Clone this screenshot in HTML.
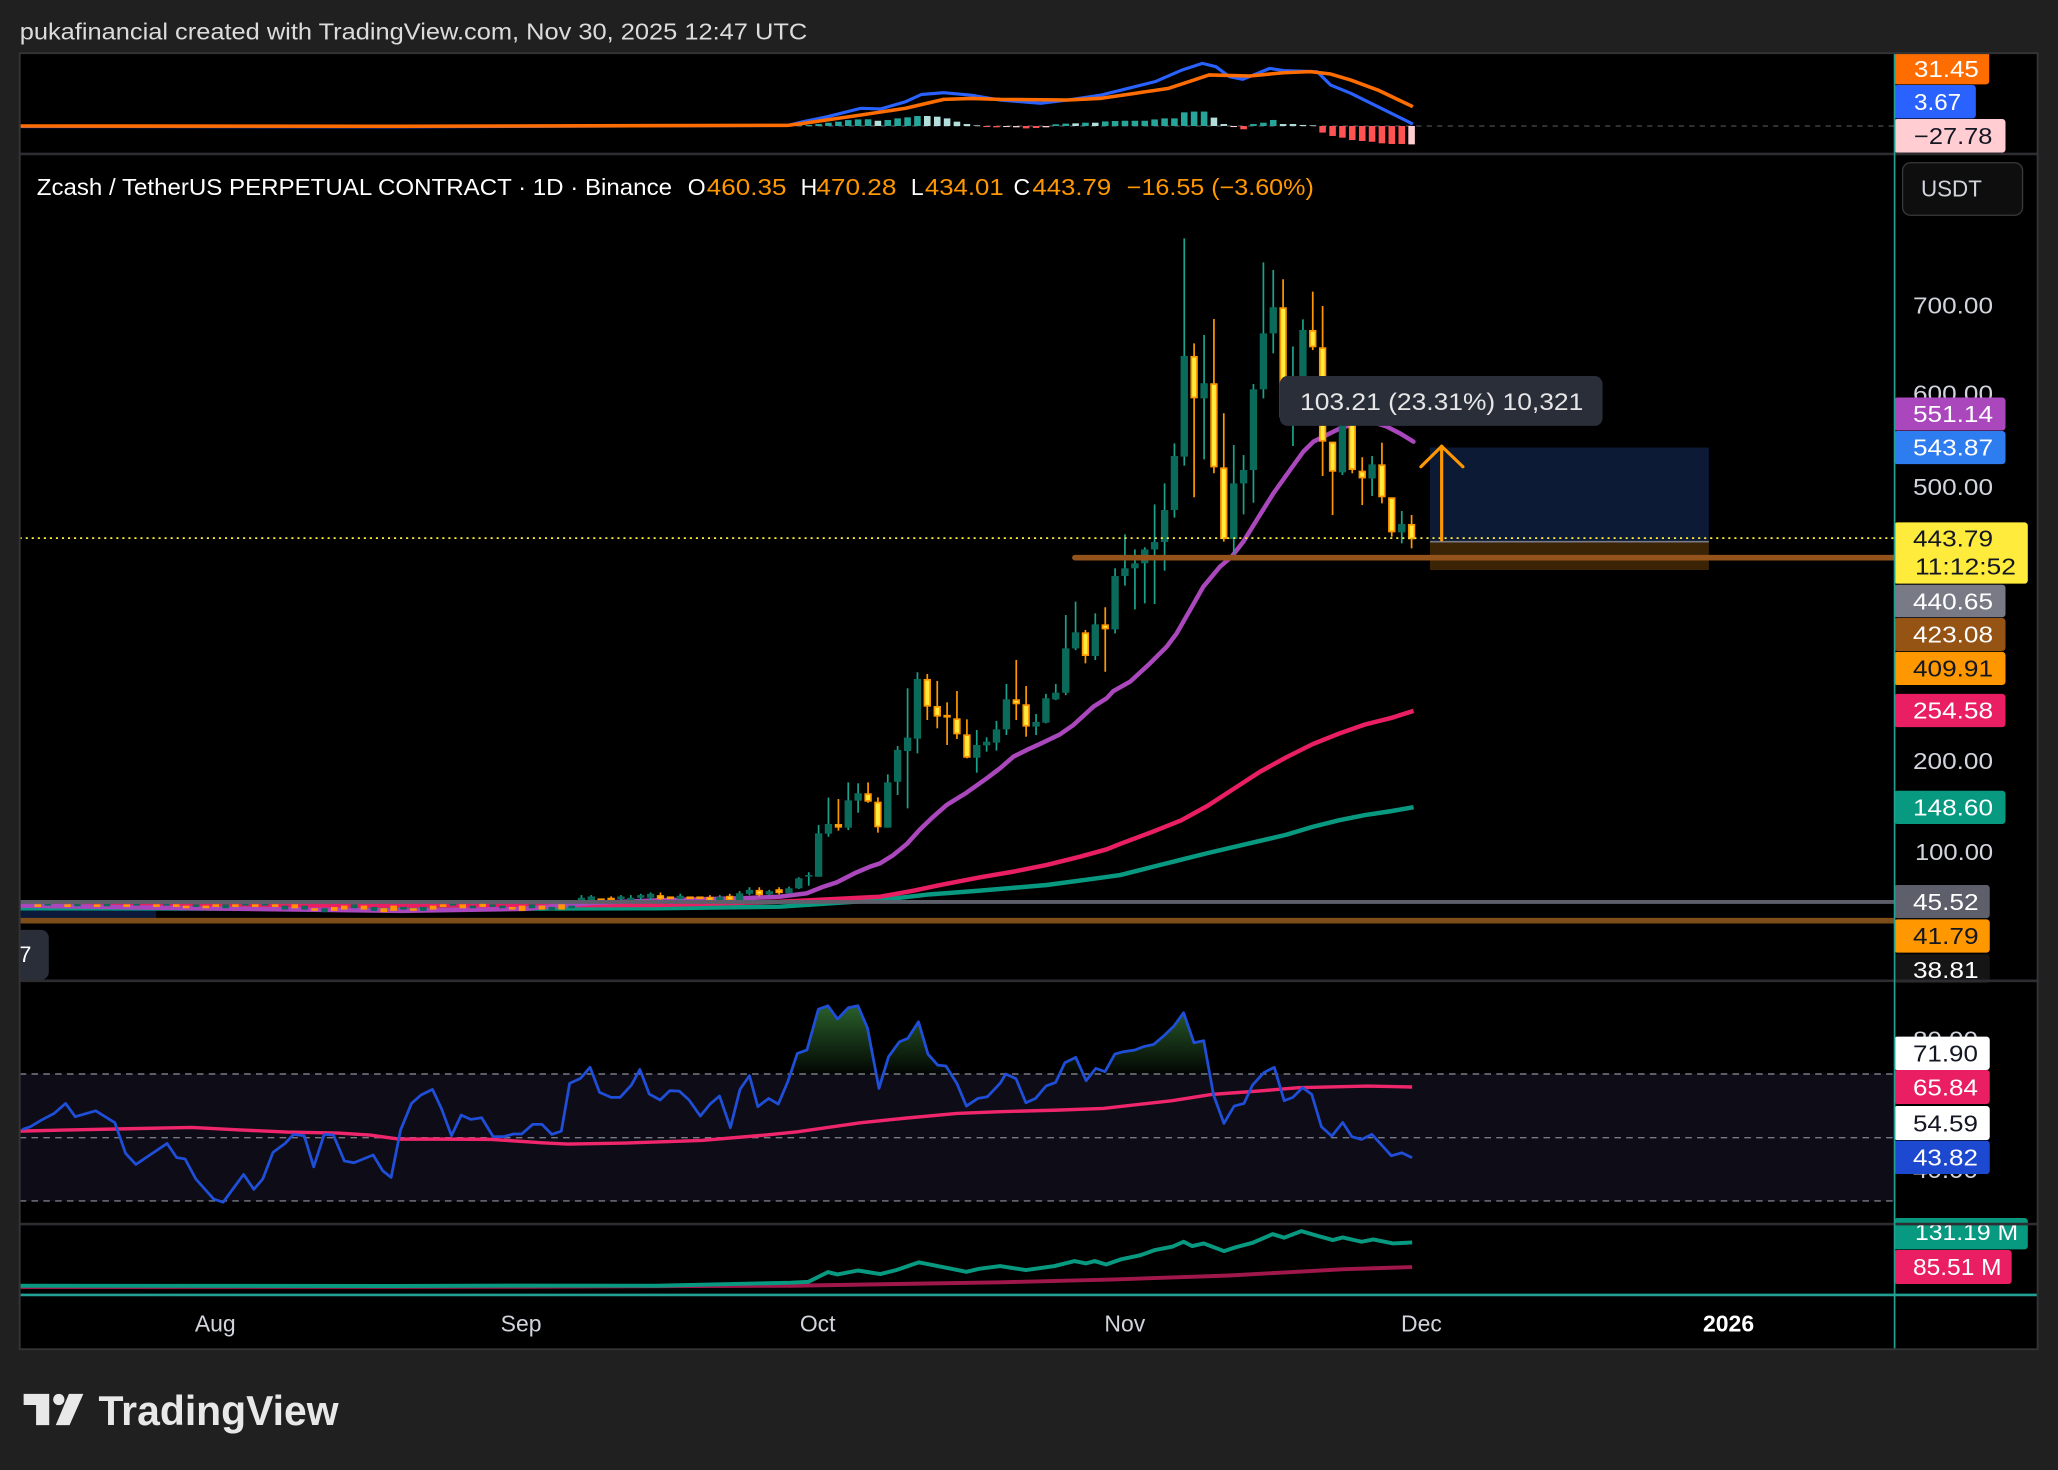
<!DOCTYPE html>
<html><head><meta charset="utf-8"><style>
html,body{margin:0;padding:0;background:#202020;}
svg{display:block;}
text{font-family:"Liberation Sans",sans-serif;}
</style></head><body>
<svg xmlns="http://www.w3.org/2000/svg" width="2058" height="1470" viewBox="0 0 1568 1120" preserveAspectRatio="none">
<defs>
<clipPath id="frame"><rect x="15" y="40.5" width="1537.5" height="987.5"/></clipPath>
<clipPath id="rsiTop"><rect x="15" y="748" width="1428" height="70.3"/></clipPath>
<linearGradient id="gfill" gradientUnits="userSpaceOnUse" x1="0" y1="766" x2="0" y2="818.3">
<stop offset="0" stop-color="#4caf50" stop-opacity="0.55"/>
<stop offset="1" stop-color="#4caf50" stop-opacity="0.03"/>
</linearGradient>
</defs>
<rect width="1568" height="1120" fill="#202020"/>
<text x="15" y="30" font-size="17.5" fill="#dcdcdc" textLength="600" lengthAdjust="spacingAndGlyphs">pukafinancial created with TradingView.com, Nov 30, 2025 12:47 UTC</text>

<g clip-path="url(#frame)">
<rect x="15" y="40" width="1538" height="988" fill="#000"/>

<!-- MACD pane -->
<line x1="15" y1="96" x2="1443" y2="96" stroke="#4d4d4d" stroke-width="1" stroke-dasharray="4 4"/>
<g fill="#26a69a">
<rect x="967.6" y="91.4" width="5" height="4.6"/>
<rect x="960.1" y="93.5" width="5" height="2.5"/>
<rect x="952.5" y="94.5" width="5" height="1.5"/>
<rect x="914.9" y="85" width="5" height="11"/>
<rect x="907.3" y="85" width="5" height="11"/>
<rect x="899.8" y="85.6" width="5" height="10.4"/>
<rect x="892.3" y="90.2" width="5" height="5.8"/>
<rect x="884.8" y="90.2" width="5" height="5.8"/>
<rect x="877.2" y="91" width="5" height="5"/>
<rect x="869.7" y="92" width="5" height="4"/>
<rect x="862.2" y="92" width="5" height="4"/>
<rect x="854.6" y="92" width="5" height="4"/>
<rect x="847.1" y="92.2" width="5" height="3.8"/>
<rect x="839.6" y="92.5" width="5" height="3.5"/>
<rect x="824.5" y="93.5" width="5" height="2.5"/>
<rect x="809.5" y="94.2" width="5" height="1.8"/>
<rect x="801.9" y="94.7" width="5" height="1.3"/>
<rect x="696.5" y="88.4" width="5" height="7.6"/>
<rect x="689" y="89.4" width="5" height="6.6"/>
<rect x="681.4" y="90.2" width="5" height="5.8"/>
<rect x="673.9" y="91.4" width="5" height="4.6"/>
<rect x="658.9" y="90.9" width="5" height="5.1"/>
<rect x="651.3" y="91" width="5" height="5"/>
<rect x="643.8" y="91.5" width="5" height="4.5"/>
<rect x="636.3" y="92.7" width="5" height="3.3"/>
<rect x="628.7" y="93.5" width="5" height="2.5"/>
<rect x="621.2" y="94.5" width="5" height="1.5"/>
<rect x="613.7" y="95.2" width="5" height="0.8"/>
<rect x="606.1" y="95.4" width="5" height="0.6"/>
</g>
<g fill="#b2dfdb">
<rect x="997.7" y="95.5" width="5" height="0.5"/>
<rect x="990.2" y="95.2" width="5" height="0.8"/>
<rect x="982.6" y="94.5" width="5" height="1.5"/>
<rect x="975.1" y="94.5" width="5" height="1.5"/>
<rect x="929.9" y="94.5" width="5" height="1.5"/>
<rect x="922.4" y="89.6" width="5" height="6.4"/>
<rect x="832" y="93.5" width="5" height="2.5"/>
<rect x="817" y="94" width="5" height="2"/>
<rect x="741.7" y="95.5" width="5" height="0.5"/>
<rect x="734.2" y="94.5" width="5" height="1.5"/>
<rect x="726.6" y="92.7" width="5" height="3.3"/>
<rect x="719.1" y="90.2" width="5" height="5.8"/>
<rect x="711.6" y="88.9" width="5" height="7.1"/>
<rect x="704" y="88.4" width="5" height="7.6"/>
<rect x="666.4" y="92" width="5" height="4"/>
</g>
<g fill="#ff5252">
<rect x="1065.5" y="96" width="5" height="13.7"/>
<rect x="1057.9" y="96" width="5" height="13.7"/>
<rect x="1050.4" y="96" width="5" height="13.2"/>
<rect x="1042.9" y="96" width="5" height="12"/>
<rect x="1035.4" y="96" width="5" height="11.4"/>
<rect x="1027.8" y="96" width="5" height="10.7"/>
<rect x="1020.3" y="96" width="5" height="8.9"/>
<rect x="1012.8" y="96" width="5" height="7.6"/>
<rect x="1005.2" y="96" width="5" height="5"/>
<rect x="945" y="96" width="5" height="2.5"/>
<rect x="786.9" y="96" width="5" height="1.5"/>
<rect x="779.3" y="96" width="5" height="1.8"/>
<rect x="756.7" y="96" width="5" height="1"/>
<rect x="749.2" y="96" width="5" height="0.8"/>
</g>
<g fill="#ffcdd2">
<rect x="1073" y="96" width="5" height="14"/>
<rect x="937.5" y="96" width="5" height="0.8"/>
<rect x="794.4" y="96" width="5" height="1"/>
<rect x="771.8" y="96" width="5" height="1"/>
<rect x="764.3" y="96" width="5" height="0.8"/>
</g>
<polyline fill="none" stroke="#2962ff" stroke-width="2.4" stroke-linejoin="round" points="15,96.4 300,96.6 600,95.6 612,92.7 630,89 656,82.5 671,83 690,77.5 702,72 719,70.6 740,72.5 761.9,76.2 792.7,78.7 813.3,76.2 839,72.4 854.4,68.6 880.1,62.2 900.7,53.3 916.1,48.3 926.4,50.8 936.7,58.4 946.9,60.4 967.5,52.1 977.8,53.8 1003.5,54.6 1013.8,64.8 1029.2,71.1 1049.8,81.3 1076.5,94.5"/>
<polyline fill="none" stroke="#ff6d00" stroke-width="2.7" stroke-linejoin="round" points="15,96 300,96.2 600,95.5 612,94 656,87.6 690,82.5 719,75.7 740,75 761.9,75.7 813.3,76.2 839,74.9 864.7,71.1 890.4,67.3 905.8,62.2 921.2,57.1 952.1,57.9 977.8,55.4 998.3,54.6 1013.8,56.4 1029.2,61 1049.8,68.6 1076.5,81.3"/>

<!-- MAIN pane -->
<text x="28" y="148.6" font-size="17.5" fill="#ffffff" textLength="484" lengthAdjust="spacingAndGlyphs">Zcash / TetherUS PERPETUAL CONTRACT · 1D · Binance</text>
<text x="524" y="148.6" font-size="17.5" fill="#ffffff">O</text>
<text x="538.5" y="148.6" font-size="17.5" fill="#ff9800" textLength="60.7" lengthAdjust="spacingAndGlyphs">460.35</text>
<text x="610" y="148.6" font-size="17.5" fill="#ffffff">H</text>
<text x="622" y="148.6" font-size="17.5" fill="#ff9800" textLength="61" lengthAdjust="spacingAndGlyphs">470.28</text>
<text x="694" y="148.6" font-size="17.5" fill="#ffffff">L</text>
<text x="704.7" y="148.6" font-size="17.5" fill="#ff9800" textLength="60" lengthAdjust="spacingAndGlyphs">434.01</text>
<text x="772.2" y="148.6" font-size="17.5" fill="#ffffff">C</text>
<text x="786.6" y="148.6" font-size="17.5" fill="#ff9800" textLength="60" lengthAdjust="spacingAndGlyphs">443.79</text>
<text x="858.5" y="148.6" font-size="17.5" fill="#ff9800" textLength="142.5" lengthAdjust="spacingAndGlyphs">−16.55 (−3.60%)</text>

<!-- left old box -->
<rect x="15" y="692.8" width="104" height="8.9" fill="#0b1a3a"/>
<line x1="15" y1="701" x2="119" y2="701" stroke="#5d606b" stroke-width="1"/>

<!-- right position box -->
<rect x="1089.5" y="341" width="212.5" height="71.7" fill="#0c1a36"/>
<rect x="1089.5" y="412.7" width="212.5" height="21.6" fill="#3b2306"/>
<line x1="1089.5" y1="412.7" x2="1302" y2="412.7" stroke="#787b86" stroke-width="1.3"/>

<!-- moving averages -->
<polyline fill="none" stroke="#089981" stroke-width="3.4" stroke-linejoin="round" points="15,692 300,692.5 500,692 594.3,690.8 670.5,685.7 708.6,681.4 746.7,678.6 797.5,674.3 835.6,669.2 853.4,666.7 880,660 900,655 920,650 950,643 980,636 1000,630 1020,625 1040,621 1060,618 1077,615"/>
<polyline fill="none" stroke="#e91e63" stroke-width="3.4" stroke-linejoin="round" points="15,689.5 300,690 500,689.5 594.3,687 670.5,683.2 696,678.6 716.2,674.3 746.7,668.4 772.1,664.1 797.5,659 822.9,652.7 843.2,647.1 853.4,643 880,633 900,625 920,614 940,601 960,588 980,577 1000,567 1020,559 1040,552 1060,547 1077,541.6"/>
<polyline fill="none" stroke="#ab47bc" stroke-width="3.4" stroke-linejoin="round" stroke-linecap="round" points="15,690 150,692 306,694 400,692.5 450,688 500,686 568,684.3 594.3,683.2 614.6,680.6 627.3,675.6 637.5,672.3 652.7,664.6 662.9,660.3 670.5,657.8 680.7,651.4 690.8,643.1 701,631.9 711.1,622.2 721.3,613.3 736.5,603.9 751.8,593 761.9,585.4 772.1,576.5 782.3,571.4 792.4,566.8 807.6,559.5 817.8,552.4 833.1,538.4 843.2,532 848.3,526.5 861,519.4 876.2,505.4 888.9,492.7 896.5,482.6 906.7,464.8 916.8,447 929.5,431.8 938.4,424.1 947.3,412.7 957.5,396.2 970.2,375.9 982.9,358.1 993,344.1 1000.7,336.5 1010.8,331.4 1021,326.4 1035,322 1046,321.5 1056.5,325 1066.7,330.2 1076.9,336.5"/>

<!-- tiny early candles -->
<g fill="#0b6b5a">
<rect x="433" y="690" width="5" height="2"/><rect x="417.9" y="691" width="5" height="3"/><rect x="402.8" y="689" width="5" height="3"/><rect x="380.2" y="690" width="5" height="2"/><rect x="372.7" y="689" width="5" height="2"/><rect x="357.7" y="690" width="5" height="2"/><rect x="342.6" y="688" width="5" height="2"/><rect x="320" y="691" width="5" height="3"/><rect x="304.9" y="691" width="5" height="2"/><rect x="282.4" y="691" width="5" height="3"/><rect x="267.3" y="689" width="5" height="3"/><rect x="244.7" y="692" width="5" height="3"/><rect x="229.6" y="690" width="5" height="3"/><rect x="214.6" y="690" width="5" height="3"/><rect x="199.5" y="688" width="5" height="2"/><rect x="184.5" y="688" width="5" height="2"/><rect x="169.4" y="689" width="5" height="3"/><rect x="146.8" y="689" width="5" height="2"/><rect x="124.2" y="688" width="5" height="2"/><rect x="101.6" y="688" width="5" height="2"/><rect x="79" y="688.5" width="5" height="2"/><rect x="56.5" y="688" width="5" height="2.5"/><rect x="33.9" y="688" width="5" height="2"/>
</g>
<g fill="#ff9800">
<rect x="425.4" y="689" width="5" height="4"/><rect x="410.4" y="690" width="5" height="3"/><rect x="395.3" y="690" width="5" height="4"/><rect x="387.8" y="691" width="5" height="2"/><rect x="365.2" y="688" width="5" height="3"/><rect x="350.1" y="689" width="5" height="3"/><rect x="335.1" y="689" width="5" height="2"/><rect x="327.5" y="690" width="5" height="3"/><rect x="312.5" y="692" width="5" height="2"/><rect x="297.4" y="690" width="5" height="4"/><rect x="289.9" y="692" width="5" height="3"/><rect x="274.8" y="690" width="5" height="3"/><rect x="259.8" y="690" width="5" height="3"/><rect x="252.2" y="691" width="5" height="3"/><rect x="237.2" y="692" width="5" height="2"/><rect x="222.1" y="689" width="5" height="3"/><rect x="207.1" y="689" width="5" height="2"/><rect x="192" y="689" width="5" height="2"/><rect x="176.9" y="689" width="5" height="2"/><rect x="161.9" y="689" width="5" height="2"/><rect x="154.3" y="690" width="5" height="2"/><rect x="139.3" y="690" width="5" height="2"/><rect x="131.8" y="689" width="5" height="2"/><rect x="116.7" y="689" width="5" height="2"/><rect x="94.1" y="689" width="5" height="2"/><rect x="71.5" y="689" width="5" height="2"/><rect x="49" y="689" width="5" height="2"/><rect x="26.3" y="689" width="5" height="2"/>
</g>

<!-- candles: up wicks -->
<g stroke="#1aa38c" stroke-width="1.3">
<line x1="1068" y1="389.3" x2="1068" y2="414"/>
<line x1="1045.4" y1="347.4" x2="1045.4" y2="377.9"/>
<line x1="1022.8" y1="310" x2="1022.8" y2="361.9"/>
<line x1="992.7" y1="243.3" x2="992.7" y2="305"/>
<line x1="985.1" y1="264" x2="985.1" y2="339.8"/>
<line x1="970.1" y1="205.7" x2="970.1" y2="269.2"/>
<line x1="962.6" y1="199.9" x2="962.6" y2="303.5"/>
<line x1="955" y1="292.6" x2="955" y2="383"/>
<line x1="947.5" y1="346.7" x2="947.5" y2="391.9"/>
<line x1="940" y1="339" x2="940" y2="422.1"/>
<line x1="917.4" y1="255.2" x2="917.4" y2="350"/>
<line x1="902.3" y1="181.6" x2="902.3" y2="354.8"/>
<line x1="894.8" y1="337.8" x2="894.8" y2="394.4"/>
<line x1="887.3" y1="368.3" x2="887.3" y2="434.8"/>
<line x1="879.7" y1="384.3" x2="879.7" y2="460.2"/>
<line x1="872.2" y1="417" x2="872.2" y2="459.7"/>
<line x1="864.7" y1="418.6" x2="864.7" y2="464.3"/>
<line x1="857.1" y1="407.1" x2="857.1" y2="446.2"/>
<line x1="849.6" y1="433" x2="849.6" y2="482.6"/>
<line x1="834.5" y1="467.3" x2="834.5" y2="502.9"/>
<line x1="819.5" y1="458.4" x2="819.5" y2="495.3"/>
<line x1="812" y1="468.6" x2="812" y2="529.6"/>
<line x1="804.4" y1="521.2" x2="804.4" y2="533.4"/>
<line x1="796.9" y1="528.7" x2="796.9" y2="551.1"/>
<line x1="789.4" y1="544" x2="789.4" y2="560"/>
<line x1="766.8" y1="521.1" x2="766.8" y2="560"/>
<line x1="759.2" y1="549.3" x2="759.2" y2="571.9"/>
<line x1="751.7" y1="561.8" x2="751.7" y2="572.7"/>
<line x1="744.2" y1="556.2" x2="744.2" y2="588.7"/>
<line x1="699" y1="512.2" x2="699" y2="574"/>
<line x1="691.5" y1="524.4" x2="691.5" y2="615.9"/>
<line x1="683.9" y1="568.4" x2="683.9" y2="605.7"/>
<line x1="676.4" y1="590" x2="676.4" y2="630.6"/>
<line x1="653.8" y1="596.8" x2="653.8" y2="619.2"/>
<line x1="646.3" y1="596.1" x2="646.3" y2="632.4"/>
<line x1="631.2" y1="607.7" x2="631.2" y2="637.5"/>
<line x1="623.7" y1="628.6" x2="623.7" y2="668"/>
<line x1="616.2" y1="664.6" x2="616.2" y2="674.8"/>
<line x1="608.6" y1="668.4" x2="608.6" y2="677.3"/>
<line x1="601.1" y1="675.6" x2="601.1" y2="680.6"/>
<line x1="586.1" y1="678" x2="586.1" y2="682"/>
<line x1="571" y1="676" x2="571" y2="682"/>
<line x1="563.5" y1="679" x2="563.5" y2="686"/>
<line x1="548.4" y1="682" x2="548.4" y2="687"/>
<line x1="518.3" y1="681" x2="518.3" y2="686"/>
<line x1="495.7" y1="680" x2="495.7" y2="686"/>
<line x1="488.2" y1="681" x2="488.2" y2="686"/>
<line x1="480.6" y1="682" x2="480.6" y2="687"/>
<line x1="473.1" y1="682" x2="473.1" y2="686"/>
<line x1="450.5" y1="682" x2="450.5" y2="687"/>
<line x1="443" y1="682" x2="443" y2="687"/>
</g>
<!-- up bodies -->
<g fill="#0b6b5a">
<rect x="1065.2" y="399.2" width="5.6" height="6.4"/>
<rect x="1042.6" y="353.8" width="5.6" height="10.7"/>
<rect x="1020" y="317.5" width="5.6" height="42.4"/>
<rect x="989.9" y="251.4" width="5.6" height="48.6"/>
<rect x="982.3" y="300" width="5.6" height="18"/>
<rect x="967.3" y="234.1" width="5.6" height="19.9"/>
<rect x="959.8" y="254" width="5.6" height="42.6"/>
<rect x="952.2" y="296.6" width="5.6" height="61.5"/>
<rect x="944.7" y="358.1" width="5.6" height="10.2"/>
<rect x="937.2" y="368.3" width="5.6" height="42.4"/>
<rect x="914.6" y="292" width="5.6" height="11.5"/>
<rect x="899.5" y="271.2" width="5.6" height="76.7"/>
<rect x="892" y="347.4" width="5.6" height="41.2"/>
<rect x="884.5" y="388.6" width="5.6" height="24.4"/>
<rect x="876.9" y="413" width="5.6" height="5.6"/>
<rect x="869.4" y="418.6" width="5.6" height="10.6"/>
<rect x="861.9" y="429.2" width="5.6" height="3.8"/>
<rect x="854.3" y="433" width="5.6" height="5.9"/>
<rect x="846.8" y="438.9" width="5.6" height="40.6"/>
<rect x="831.7" y="475.7" width="5.6" height="24.1"/>
<rect x="816.7" y="481.8" width="5.6" height="12.2"/>
<rect x="809.2" y="494" width="5.6" height="33.8"/>
<rect x="801.6" y="527.8" width="5.6" height="5.1"/>
<rect x="794.1" y="532" width="5.6" height="18.6"/>
<rect x="786.6" y="550.1" width="5.6" height="3.5"/>
<rect x="764" y="532.8" width="5.6" height="22.9"/>
<rect x="756.4" y="555.7" width="5.6" height="10.1"/>
<rect x="748.9" y="565.1" width="5.6" height="2.8"/>
<rect x="741.4" y="567.6" width="5.6" height="9.7"/>
<rect x="696.2" y="517.3" width="5.6" height="45.5"/>
<rect x="688.7" y="562" width="5.6" height="10.2"/>
<rect x="681.1" y="571.4" width="5.6" height="24.2"/>
<rect x="673.6" y="596.1" width="5.6" height="34.5"/>
<rect x="651" y="604.4" width="5.6" height="5.6"/>
<rect x="643.5" y="609.8" width="5.6" height="20.8"/>
<rect x="628.4" y="627.8" width="5.6" height="7.4"/>
<rect x="620.9" y="634.9" width="5.6" height="33.1"/>
<rect x="613.4" y="666.7" width="5.6" height="1.2"/>
<rect x="605.8" y="669.2" width="5.6" height="7.6"/>
<rect x="598.3" y="676.8" width="5.6" height="3.8"/>
<rect x="583.3" y="679" width="5.6" height="2.5"/>
<rect x="568.2" y="678" width="5.6" height="3"/>
<rect x="560.7" y="680.6" width="5.6" height="5.1"/>
<rect x="545.6" y="683.5" width="5.6" height="2.5"/>
<rect x="515.5" y="682.5" width="5.6" height="2.5"/>
<rect x="492.9" y="681" width="5.6" height="3"/>
<rect x="485.4" y="682" width="5.6" height="2"/>
<rect x="477.8" y="684" width="5.6" height="2"/>
<rect x="470.3" y="683" width="5.6" height="2"/>
<rect x="447.7" y="683" width="5.6" height="3"/>
<rect x="440.2" y="684" width="5.6" height="2"/>
</g>
<!-- down wicks -->
<g stroke="#ff9800" stroke-width="1.3">
<line x1="1075.5" y1="392.4" x2="1075.5" y2="417.8"/>
<line x1="1060.4" y1="378.9" x2="1060.4" y2="408.9"/>
<line x1="1052.9" y1="337.3" x2="1052.9" y2="383.5"/>
<line x1="1037.9" y1="348.4" x2="1037.9" y2="384.8"/>
<line x1="1030.3" y1="312" x2="1030.3" y2="360.6"/>
<line x1="1015.3" y1="336.5" x2="1015.3" y2="392.4"/>
<line x1="1007.7" y1="233.1" x2="1007.7" y2="362.7"/>
<line x1="1000.2" y1="222.2" x2="1000.2" y2="266.7"/>
<line x1="977.6" y1="212.8" x2="977.6" y2="322"/>
<line x1="932.4" y1="314.9" x2="932.4" y2="412.7"/>
<line x1="924.9" y1="243" x2="924.9" y2="360.6"/>
<line x1="909.8" y1="261.6" x2="909.8" y2="378.9"/>
<line x1="842.1" y1="462.7" x2="842.1" y2="511.8"/>
<line x1="827" y1="480" x2="827" y2="505.4"/>
<line x1="781.8" y1="522.7" x2="781.8" y2="561.3"/>
<line x1="774.3" y1="502.8" x2="774.3" y2="548.6"/>
<line x1="736.7" y1="548.1" x2="736.7" y2="577.8"/>
<line x1="729.1" y1="526.5" x2="729.1" y2="563"/>
<line x1="721.6" y1="535.1" x2="721.6" y2="567.6"/>
<line x1="714.1" y1="518.8" x2="714.1" y2="554.9"/>
<line x1="706.5" y1="513.5" x2="706.5" y2="548.6"/>
<line x1="668.9" y1="607.5" x2="668.9" y2="634.4"/>
<line x1="661.4" y1="596.1" x2="661.4" y2="611.6"/>
<line x1="638.8" y1="608.8" x2="638.8" y2="632.9"/>
<line x1="593.6" y1="676" x2="593.6" y2="681.5"/>
<line x1="578.5" y1="676" x2="578.5" y2="683"/>
<line x1="556" y1="681" x2="556" y2="687"/>
<line x1="540.9" y1="682" x2="540.9" y2="687"/>
<line x1="503.2" y1="680" x2="503.2" y2="686"/>
<line x1="465.6" y1="683" x2="465.6" y2="687"/>
</g>
<!-- down bodies -->
<g fill="#ffeb3b" stroke="#ff9800" stroke-width="1.3">
<rect x="1073.35" y="399.85" width="4.3" height="10.4"/>
<rect x="1058.25" y="379.55" width="4.3" height="25.4"/>
<rect x="1050.75" y="354.45" width="4.3" height="23.8"/>
<rect x="1035.75" y="359.25" width="4.3" height="4.6"/>
<rect x="1028.15" y="318.15" width="4.3" height="39.3"/>
<rect x="1013.15" y="337.15" width="4.3" height="21.6"/>
<rect x="1005.55" y="265.25" width="4.3" height="70.6"/>
<rect x="998.05" y="252.05" width="4.3" height="11.9"/>
<rect x="975.45" y="234.75" width="4.3" height="82.6"/>
<rect x="930.25" y="356.75" width="4.3" height="53.3"/>
<rect x="922.75" y="292.65" width="4.3" height="62.8"/>
<rect x="907.65" y="271.85" width="4.3" height="31"/>
<rect x="839.95" y="476.35" width="4.3" height="2.5"/>
<rect x="824.85" y="482.45" width="4.3" height="16.7"/>
<rect x="779.65" y="537.25" width="4.3" height="15.7"/>
<rect x="772.15" y="533.45" width="4.3" height="2.5"/>
<rect x="734.55" y="560.15" width="4.3" height="16.5"/>
<rect x="726.95" y="547.95" width="4.3" height="10.9"/>
<rect x="719.45" y="545.3" width="4.3" height="0.8"/>
<rect x="711.95" y="538.55" width="4.3" height="6.8"/>
<rect x="704.35" y="517.95" width="4.3" height="19.8"/>
<rect x="666.75" y="611.45" width="4.3" height="18.2"/>
<rect x="659.25" y="605.05" width="4.3" height="5.1"/>
<rect x="636.65" y="628.45" width="4.3" height="1.5"/>
<rect x="591.45" y="678.15" width="4.3" height="1.7"/>
<rect x="576.35" y="678.65" width="4.3" height="2.7"/>
<rect x="553.85" y="683.15" width="4.3" height="2.2"/>
<rect x="538.75" y="683.95" width="4.3" height="1.9"/>
<rect x="531.15" y="683.65" width="4.3" height="0.7"/>
<rect x="523.65" y="683.65" width="4.3" height="0.7"/>
<rect x="508.65" y="683.65" width="4.3" height="0.7"/>
<rect x="501.05" y="682.65" width="4.3" height="1.7"/>
<rect x="463.45" y="684.65" width="4.3" height="0.7"/>
<rect x="455.85" y="685.15" width="4.3" height="0.7"/>
</g>

<!-- horizontal drawings -->
<line x1="15" y1="687.2" x2="1443" y2="687.2" stroke="#5d606b" stroke-width="2.9"/>
<line x1="15" y1="701.5" x2="1443" y2="701.5" stroke="#7d4e19" stroke-width="4.3"/>
<line x1="819" y1="424.9" x2="1443" y2="424.9" stroke="#93531a" stroke-width="4.3" stroke-linecap="round"/>
<line x1="15" y1="410" x2="1443" y2="410" stroke="#ffeb3b" stroke-width="1.3" stroke-dasharray="1.6 3"/>

<!-- arrow -->
<g stroke="#ff9800" stroke-width="2.4" fill="none" stroke-linecap="round" stroke-linejoin="round">
<line x1="1098.4" y1="411.4" x2="1098.4" y2="340"/>
<polyline points="1082.6,355.6 1098.4,340 1114.6,355.6"/>
</g>

<!-- tooltip -->
<rect x="975" y="286.5" width="246" height="38" rx="6" fill="#2a2e39"/>
<text x="990.5" y="312.4" font-size="18" fill="#e6e6e6" textLength="215.8" lengthAdjust="spacingAndGlyphs">103.21 (23.31%) 10,321</text>

<!-- "7" label -->
<rect x="5" y="708.5" width="32.2" height="38" rx="6" fill="#2a2e39"/>
<text x="14.5" y="733" font-size="17" fill="#ffffff">7</text>

<!-- RSI pane -->
<rect x="15" y="818.3" width="1428" height="96.8" fill="#0e0c17"/>
<g stroke="#787b86" stroke-width="1.1" stroke-dasharray="5 4">
<line x1="15" y1="818.3" x2="1443" y2="818.3"/>
<line x1="15" y1="866.8" x2="1443" y2="866.8"/>
<line x1="15" y1="915" x2="1443" y2="915"/>
</g>
<polygon clip-path="url(#rsiTop)" fill="url(#gfill)" points="430,818.3 434,825.4 442.3,821.6 449.6,813.2 456.8,832.3 465.6,836.1 472.4,836.1 481.1,826.7 487.5,814.8 494.7,833.6 503,838.1 510.3,831 517.6,831.3 525,838.1 533.6,850.3 541,841.2 548.2,835.1 556.5,859.2 563.8,830 571,819.6 577.4,843.2 585.6,836.9 593,841.2 600.2,824.2 607.5,802.6 614.8,800 623.5,769 630.8,766.3 638.1,776.4 646.4,767.8 653.7,766.3 661,783.5 669.7,829.3 677,805.1 685.3,793.7 691.6,791.2 699.8,778.5 707,803.1 714.4,811.5 720.7,812.2 729,825.4 736.3,842.7 745,836.9 752.3,835.6 762,825.4 766.3,818.3 774.1,821.9 781.6,840.2 789,836.9 796.9,827.5 804.3,824.7 811.3,809.7 819.6,805.6 827.5,823.4 834.9,814 841.9,816.5 849.4,803.1 855.9,801.3 864.7,800 871.2,797.5 879.1,795.7 886.5,789.4 894.4,781.8 901.8,771.6 909.7,794.5 917.1,792.9 924.6,834.3 932.5,855.9 940.3,842.7 947.8,840.7 954.3,826.7 963.1,817.1 970.9,813.2 978.4,838.6 985,836.1 990,818.3"/>
<polyline fill="none" stroke="#f0266c" stroke-width="2.6" stroke-linejoin="round" points="15,861.8 48.6,861 97.2,860 145.8,859 184.7,861 218.7,862.5 257.6,863.3 281.9,864.8 303.8,867.9 340.2,867.9 374.2,868.1 413.1,870.7 432.5,871.7 476.3,870.9 534.6,868.9 583.2,864.8 607.5,862.3 656.1,855.4 690.1,851.9 729,848.3 762,847 805.6,845.8 840.6,844.5 893.1,838.6 923.7,833.8 958.7,831.3 989.3,828.7 1041.8,827.5 1075.9,828.2"/>
<polyline fill="none" stroke="#1f4fd8" stroke-width="2.1" stroke-linejoin="round" points="17,860.5 23,858.5 31.6,853.4 41.3,848.3 50,840.7 57.3,850.8 72.9,846.3 87.5,855.4 95.7,878.8 103.5,887.2 114.2,880 127.3,871.2 134.6,882 141,883 149.2,898.3 162.8,913.6 170,916 185.6,894.8 193.4,906.2 200.2,898.3 208,878 217.2,871.2 223.6,864.3 231.8,865.3 239,889 247,864.3 254,864.8 262.4,884.6 269.7,885.9 284.3,880 291.6,892 298,897.1 305.2,861 313.5,840.7 320.8,834.3 329.5,830 336.3,844.5 344,865.3 351.4,849.6 358.7,852.9 367,851.6 375.7,866 384,866 391.2,864 397.5,864 405.8,856.7 413,856.7 420.4,864.3 427.7,861.8 434,825.4 442.3,821.6 449.6,813.2 456.8,832.3 465.6,836.1 472.4,836.1 481.1,826.7 487.5,814.8 494.7,833.6 503,838.1 510.3,831 517.6,831.3 525,838.1 533.6,850.3 541,841.2 548.2,835.1 556.5,859.2 563.8,830 571,819.6 577.4,843.2 585.6,836.9 593,841.2 600.2,824.2 607.5,802.6 614.8,800 623.5,769 630.8,766.3 638.1,776.4 646.4,767.8 653.7,766.3 661,783.5 669.7,829.3 677,805.1 685.3,793.7 691.6,791.2 699.8,778.5 707,803.1 714.4,811.5 720.7,812.2 729,825.4 736.3,842.7 745,836.9 752.3,835.6 762,825.4 766.3,818.3 774.1,821.9 781.6,840.2 789,836.9 796.9,827.5 804.3,824.7 811.3,809.7 819.6,805.6 827.5,823.4 834.9,814 841.9,816.5 849.4,803.1 855.9,801.3 864.7,800 871.2,797.5 879.1,795.7 886.5,789.4 894.4,781.8 901.8,771.6 909.7,794.5 917.1,792.9 924.6,834.3 932.5,855.9 940.3,842.7 947.8,840.7 954.3,826.7 963.1,817.1 970.9,813.2 978.4,838.6 985,836.1 992.4,828.7 999.4,833.8 1006.8,858.5 1014.7,865.6 1023,855.2 1030,866.1 1037.4,868.1 1045.3,864.3 1052.7,872.4 1060.1,880.6 1068,878.3 1075.9,882.1"/>

<!-- Volume pane -->
<polyline fill="none" stroke="#a0184b" stroke-width="3" stroke-linejoin="round" points="15,980.6 400,980.4 602.6,979.6 762,977 849.4,974.8 936.8,971.8 1024.3,967 1075.9,965.4"/>
<polyline fill="none" stroke="#089981" stroke-width="3" stroke-linejoin="round" points="15,979.6 300,979.8 400,979.5 500,979.6 602.6,977.3 616,976.6 630.8,969.2 638,971 653.7,968 670.7,970.7 682.8,967.7 700,961.8 714.4,964.6 736.3,969 746,966.7 762,964.6 781.6,967.7 803.4,964.6 818.7,960.8 827.5,962.6 834,960.8 842.8,963.4 853.7,959.6 869,956.3 880,952.4 893.1,949.9 901.8,946.1 908.4,949.4 917.1,947.4 932.5,953.2 941.2,950.4 954.3,946.9 969.6,940.3 978.4,943 991.5,938 1004.6,941.8 1015.5,944.8 1023,942.8 1037.4,946.1 1046.2,944.3 1061.4,947.4 1075.9,946.6"/>

<!-- price axis labels -->
<g font-size="17.5" fill="#d1d4dc">
<text x="1457.5" y="239" textLength="61" lengthAdjust="spacingAndGlyphs">700.00</text>
<text x="1457.5" y="305.8" textLength="61" lengthAdjust="spacingAndGlyphs">600.00</text>
<text x="1457.5" y="377.3" textLength="61" lengthAdjust="spacingAndGlyphs">500.00</text>
<text x="1457.5" y="586" textLength="61" lengthAdjust="spacingAndGlyphs">200.00</text>
<text x="1459" y="655.3" textLength="59.6" lengthAdjust="spacingAndGlyphs">100.00</text>
<text x="1457.5" y="798" textLength="49.5" lengthAdjust="spacingAndGlyphs">80.00</text>
<text x="1457.5" y="897.5" textLength="49.5" lengthAdjust="spacingAndGlyphs">40.00</text>
</g>
<!-- USDT button -->
<rect x="1449.6" y="124" width="91.4" height="40" rx="6" fill="#0e0e0e" stroke="#3a3a3a" stroke-width="1"/>
<text x="1463.6" y="149.8" font-size="17.5" fill="#d1d4dc" textLength="46.4" lengthAdjust="spacingAndGlyphs">USDT</text>

<!-- label boxes -->
<rect x="1443" y="38" width="72.6" height="26.3" rx="2.5" fill="#ff6d00"/>
<text x="1458.3" y="58.8" font-size="17.5" fill="#fff" textLength="49.3" lengthAdjust="spacingAndGlyphs">31.45</text>
<rect x="1443" y="64.8" width="62.4" height="25.4" rx="2.5" fill="#2962ff"/>
<text x="1458.3" y="83.8" font-size="17.5" fill="#fff" textLength="35.9" lengthAdjust="spacingAndGlyphs">3.67</text>
<rect x="1443" y="90.7" width="85" height="25.6" rx="2.5" fill="#ffcdd2"/>
<text x="1458.3" y="109.8" font-size="17.5" fill="#131722" textLength="59.7" lengthAdjust="spacingAndGlyphs">−27.78</text>

<rect x="1443" y="302.9" width="85" height="25.1" rx="2.5" fill="#ab47bc"/>
<text x="1457.5" y="321.7" font-size="17.5" fill="#fff" textLength="61" lengthAdjust="spacingAndGlyphs">551.14</text>
<rect x="1443" y="328.4" width="85" height="25.2" rx="2.5" fill="#2d7cf0"/>
<text x="1457.5" y="347.2" font-size="17.5" fill="#fff" textLength="61" lengthAdjust="spacingAndGlyphs">543.87</text>
<rect x="1443" y="398" width="102" height="46.7" rx="2.5" fill="#ffeb3b"/>
<text x="1457.5" y="416.3" font-size="17.5" fill="#131722" textLength="61" lengthAdjust="spacingAndGlyphs">443.79</text>
<text x="1459" y="437.8" font-size="17.5" fill="#131722" textLength="77" lengthAdjust="spacingAndGlyphs">11:12:52</text>
<rect x="1443" y="445.5" width="85" height="24.8" rx="2.5" fill="#787b86"/>
<text x="1457.5" y="464.2" font-size="17.5" fill="#fff" textLength="61" lengthAdjust="spacingAndGlyphs">440.65</text>
<rect x="1443" y="470.9" width="85" height="25.1" rx="2.5" fill="#955314"/>
<text x="1457.5" y="489.6" font-size="17.5" fill="#fff" textLength="61" lengthAdjust="spacingAndGlyphs">423.08</text>
<rect x="1443" y="496.7" width="85" height="25.2" rx="2.5" fill="#ff9800"/>
<text x="1457.5" y="515.5" font-size="17.5" fill="#131722" textLength="61" lengthAdjust="spacingAndGlyphs">409.91</text>
<rect x="1443" y="528.7" width="85" height="25.3" rx="2.5" fill="#e91e63"/>
<text x="1457.5" y="547.6" font-size="17.5" fill="#fff" textLength="61" lengthAdjust="spacingAndGlyphs">254.58</text>
<rect x="1443" y="602.5" width="85" height="25.3" rx="2.5" fill="#089981"/>
<text x="1457.5" y="621.3" font-size="17.5" fill="#fff" textLength="61" lengthAdjust="spacingAndGlyphs">148.60</text>
<rect x="1443" y="674.3" width="73" height="25.2" rx="2.5" fill="#5d606b"/>
<text x="1457.5" y="693.2" font-size="17.5" fill="#fff" textLength="50" lengthAdjust="spacingAndGlyphs">45.52</text>
<rect x="1443" y="700.5" width="73" height="25.3" rx="2.5" fill="#ff9800"/>
<text x="1457.5" y="719.4" font-size="17.5" fill="#131722" textLength="50" lengthAdjust="spacingAndGlyphs">41.79</text>
<rect x="1443" y="727" width="73" height="22" rx="2.5" fill="#151515"/>
<text x="1457.5" y="745.2" font-size="17.5" fill="#fff" textLength="50" lengthAdjust="spacingAndGlyphs">38.81</text>

<rect x="1443" y="789.8" width="73" height="25.4" rx="2.5" fill="#ffffff"/>
<text x="1457.5" y="808.8" font-size="17.5" fill="#131722" textLength="49.5" lengthAdjust="spacingAndGlyphs">71.90</text>
<rect x="1443" y="815.2" width="73" height="25.9" rx="2.5" fill="#e91e63"/>
<text x="1457.5" y="834.5" font-size="17.5" fill="#fff" textLength="49.5" lengthAdjust="spacingAndGlyphs">65.84</text>
<rect x="1443" y="842.7" width="73" height="25.9" rx="2.5" fill="#ffffff"/>
<text x="1457.5" y="862" font-size="17.5" fill="#131722" textLength="49.5" lengthAdjust="spacingAndGlyphs">54.59</text>
<rect x="1443" y="869" width="73" height="25.5" rx="2.5" fill="#1c49d0"/>
<text x="1457.5" y="888" font-size="17.5" fill="#fff" textLength="49.5" lengthAdjust="spacingAndGlyphs">43.82</text>

<rect x="1443" y="928" width="102" height="23.9" rx="2.5" fill="#089981"/>
<text x="1459" y="944.8" font-size="17.5" fill="#fff" textLength="78.6" lengthAdjust="spacingAndGlyphs">131.19 M</text>
<rect x="1443" y="952.4" width="89.7" height="25.9" rx="2.5" fill="#e91e63"/>
<text x="1457.5" y="971.4" font-size="17.5" fill="#fff" textLength="67.5" lengthAdjust="spacingAndGlyphs">85.51 M</text>

<!-- separators -->
<g stroke="#2c2c31" stroke-width="2">
<line x1="15" y1="117.3" x2="1553" y2="117.3"/>
<line x1="15" y1="747.3" x2="1553" y2="747.3"/>
<line x1="15" y1="932.6" x2="1553" y2="932.6"/>
</g>
<line x1="15" y1="986.6" x2="1553" y2="986.6" stroke="#22a093" stroke-width="2"/>
<line x1="1443.5" y1="40" x2="1443.5" y2="1028" stroke="#22a093" stroke-width="1.3"/>

<!-- time axis -->
<g font-size="17.5" fill="#d1d4dc" text-anchor="middle">
<text x="164" y="1014.6">Aug</text>
<text x="397" y="1014.6">Sep</text>
<text x="623" y="1014.6">Oct</text>
<text x="857" y="1014.6">Nov</text>
<text x="1083" y="1014.6">Dec</text>
<text x="1317" y="1014.6" font-weight="bold" fill="#ffffff">2026</text>
</g>
</g>
<rect x="15" y="40.5" width="1537.5" height="987.5" fill="none" stroke="#333336" stroke-width="1.5"/>

<!-- TradingView logo -->
<g fill="#e8e8e8">
<path d="M18 1062 H37.5 V1085.8 H27.5 V1070.5 H18 Z"/>
<circle cx="44.8" cy="1066.3" r="4.3"/>
<polygon points="52.5,1062 63.5,1062 53,1085.8 42.5,1085.8"/>
<text x="75" y="1085.8" font-size="32" font-weight="bold" textLength="183" lengthAdjust="spacingAndGlyphs">TradingView</text>
</g>
</svg>
</body></html>
